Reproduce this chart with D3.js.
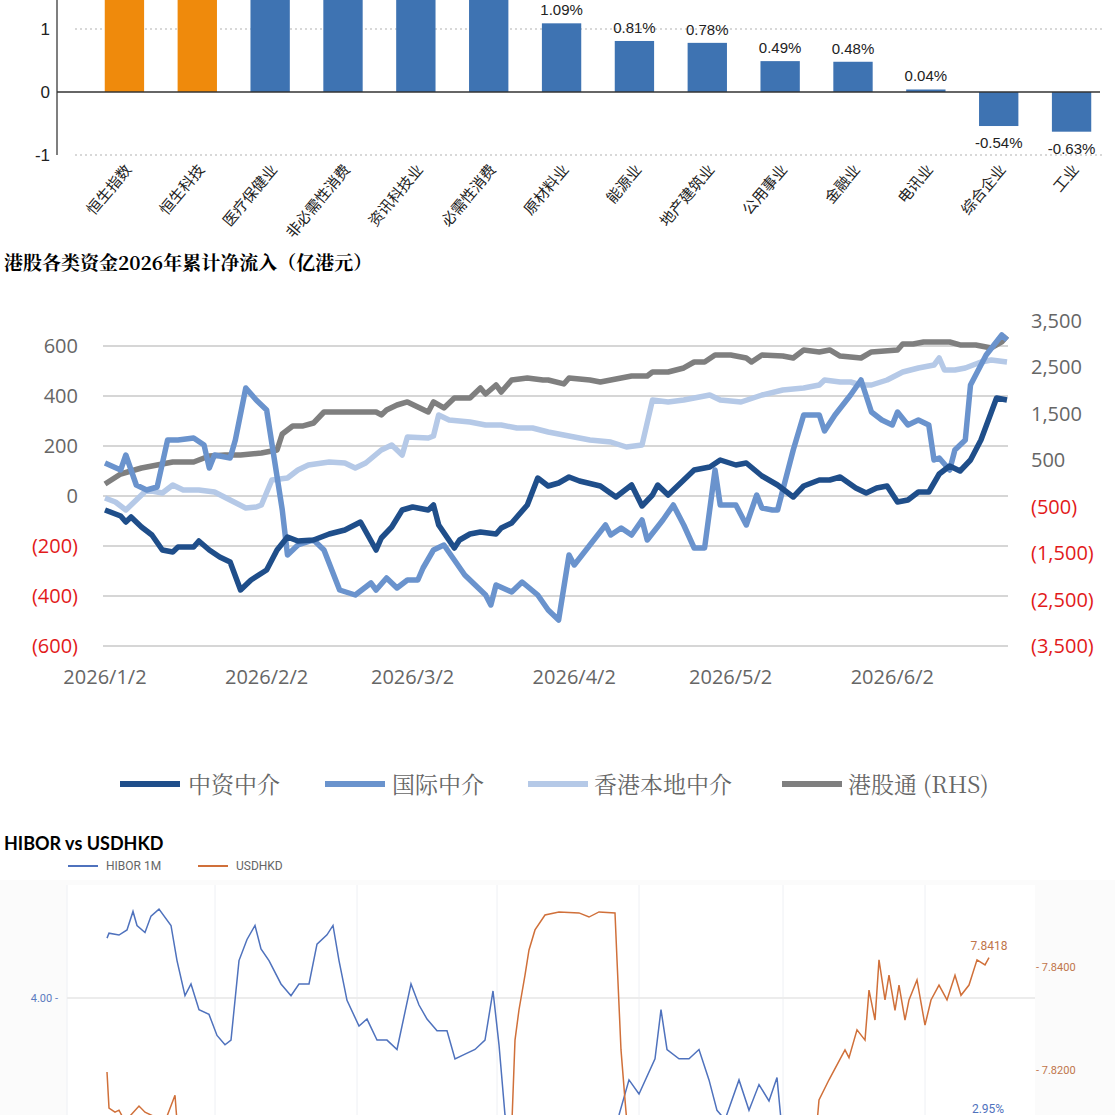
<!DOCTYPE html>
<html><head><meta charset="utf-8">
<script src="https://cdn.jsdelivr.net/npm/d3@7"></script>
<style>body{margin:0;background:#fff}svg{display:block}</style>
</head><body>
<svg id="c" width="1115" height="1115"></svg>
<script>
// ---------- Top bar chart ----------
const sectors=["恒生指数","恒生科技","医疗保健业","非必需性消费","资讯科技业","必需性消费","原材料业","能源业","地产建筑业","公用事业","金融业","电讯业","综合企业","工业"];
const sectorVals=[2.6,2.4,2.1,1.95,1.85,1.7,1.09,0.81,0.78,0.49,0.48,0.04,-0.54,-0.63];
const barYTicks=[1,0,-1];

// ---------- Middle chart ----------
const midTitle="港股各类资金2026年累计净流入（亿港元）";
const seriesNames=["中资中介","国际中介","香港本地中介","港股通 (RHS)"];
const dayZH=[0,3,4,5,7,9,11,13,14,17,18,20,22,24,26,28,31,33,35,37,40,43,46,49,52,53,55,57,59,62,63,64,67,68,70,72,75,76,78,79,81,83,85,87,89,91,95,98,101,103,105,106,108,111,113,116,118,121,123,126,129,132,134,137,139,141,144,146,148,150,152,154,156,158,160,162,164,166,168,171,173];
const valZH=[-56,-80,-104,-84,-124,-156,-216,-224,-204,-204,-180,-216,-244,-264,-376,-336,-296,-216,-164,-180,-176,-152,-136,-104,-216,-168,-124,-56,-44,-56,-36,-116,-208,-176,-152,-144,-152,-128,-108,-84,-36,72,40,52,76,60,40,-4,44,-40,4,44,4,64,104,116,144,124,132,80,44,-4,40,64,64,76,32,12,32,40,-24,-16,16,16,88,120,100,144,224,392,384];
const dayGJ=[0,3,4,6,8,10,12,14,17,19,20,21,24,25,27,29,31,34,35,37,40,42,45,48,51,52,54,56,58,60,61,63,65,67,69,72,73,74,75,78,80,83,85,87,89,90,93,96,97,99,101,103,104,107,109,111,113,115,117,118,121,123,125,126,128,129,132,134,137,138,140,143,145,147,149,151,152,154,156,158,159,160,162,163,165,166,169,172,173];
const valGJ=[132,104,164,44,24,36,224,224,232,204,112,164,152,224,432,384,344,-56,-236,-196,-176,-216,-376,-396,-348,-376,-328,-368,-336,-336,-288,-216,-196,-256,-316,-376,-396,-436,-356,-384,-344,-396,-456,-496,-236,-276,-196,-116,-156,-128,-156,-96,-176,-96,-36,-116,-208,-208,104,-36,-36,-116,4,-48,-56,-56,184,324,324,260,324,404,464,336,304,284,336,284,304,284,144,152,104,184,224,444,564,644,624];
const dayHK=[0,2,4,6,8,11,13,15,18,21,24,27,29,30,32,35,37,39,43,46,48,50,53,55,57,58,62,63,64,66,70,73,76,79,82,85,88,90,93,97,100,103,105,108,111,113,116,118,122,126,130,134,137,138,141,143,145,147,150,153,156,159,160,161,163,165,168,170,173];
const valHK=[-8,-24,-56,-16,24,12,44,24,24,16,-16,-48,-44,-36,64,72,104,124,136,132,112,132,184,204,164,236,232,240,324,304,296,284,284,272,272,256,244,236,224,216,196,204,384,376,384,392,404,384,376,404,424,432,444,464,456,456,444,444,464,496,512,524,552,504,504,512,536,544,536];
const dayGGT=[0,3,7,11,13,17,20,23,26,30,33,34,36,38,40,42,46,52,53,54,56,58,62,63,65,67,70,72,73,75,76,78,81,84,85,88,89,93,95,97,101,104,105,108,111,113,115,117,120,123,124,126,130,132,134,137,139,141,145,147,152,153,155,157,160,162,164,167,170,172,173];
const valGGT=[-11,205,334,420,463,463,592,614,614,657,722,1067,1239,1239,1303,1540,1540,1540,1476,1583,1691,1756,1540,1756,1627,1842,1842,2057,1928,2122,1971,2230,2273,2230,2230,2144,2273,2230,2187,2230,2316,2316,2402,2402,2488,2617,2617,2768,2768,2703,2617,2768,2746,2703,2876,2833,2876,2746,2703,2833,2876,3005,3005,3048,3048,3048,2984,2984,2919,3048,3177];
const leftTicks=[600,400,200,0,-200,-400,-600];
const rightTicks=[3500,2500,1500,500,-500,-1500,-2500,-3500];
const dateTicks=["2026-01-02","2026-02-02","2026-03-02","2026-04-02","2026-05-02","2026-06-02"];

// ---------- Bottom chart ----------
const botTitle="HIBOR vs USDHKD";
const tHibor=[20,21,26,30,33,35,39,42,46,52,55,59,62,66,71,75,79,82,86,90,94,97,101,107,112,116,121,125,130,133,136,140,146,150,155,160,165,172,176,180,185,190,194,199,204,209,213,216,219,230,260,276,281,286,294,297,300,306,311,316,321,325,329,336,341,346,351,355,357,370,420,460];
const vHibor=[4.256,4.277,4.269,4.291,4.37,4.31,4.28,4.35,4.38,4.31,4.16,4.01,4.06,3.95,3.93,3.84,3.80,3.82,4.16,4.25,4.31,4.21,4.16,4.06,4.01,4.06,4.06,4.23,4.27,4.31,4.16,3.99,3.88,3.91,3.82,3.82,3.78,4.06,3.97,3.91,3.86,3.86,3.74,3.76,3.78,3.82,4.03,3.80,3.50,3.0,3.1,3.50,3.65,3.59,3.74,3.95,3.78,3.74,3.74,3.78,3.65,3.52,3.48,3.65,3.52,3.63,3.56,3.66,3.48,3.2,3.1,2.95];
const tUsd=[20,21,24,26,29,36,39,49,54,55,66,222,224,226,229,231,234,239,246,256,261,266,274,275,277,279,281,374,376,381,389,391,395,399,401,404,406,409,411,414,416,419,421,425,429,432,436,440,444,447,451,455,459,461];
const vUsd=[7.8196,7.8126,7.8118,7.8122,7.8100,7.8130,7.8118,7.8100,7.8151,7.8100,7.8050,7.8050,7.8258,7.8317,7.8384,7.8433,7.8472,7.8501,7.8507,7.8505,7.8497,7.8507,7.8505,7.8414,7.8239,7.8142,7.8050,7.8050,7.8142,7.8181,7.8239,7.8224,7.8278,7.8258,7.8355,7.8297,7.8414,7.8336,7.8384,7.8316,7.8365,7.8297,7.8336,7.8375,7.8287,7.8336,7.8365,7.8336,7.8384,7.8345,7.8365,7.8414,7.8404,7.8418];
const usdTicks=[7.84,7.82];
const hiborTicks=[4.0];

const svg=d3.select("#c");
const CJK="'Noto Sans CJK SC','Noto Sans',sans-serif";

// ===== Top =====
const xb=d3.scaleBand().domain(sectors).range([88,1108]).paddingInner(0.46).paddingOuter(0.23);
const yb=d3.scaleLinear().domain([-1,1]).range([155,29]);
const gTop=svg.append("g");
gTop.append("line").attr("x1",57).attr("x2",57).attr("y1",0).attr("y2",yb(-1)).attr("stroke","#555").attr("stroke-width",1.5);
[1,-1].forEach(v=>gTop.append("line").attr("x1",75).attr("x2",1105).attr("y1",yb(v)).attr("y2",yb(v)).attr("stroke","#ccc").attr("stroke-dasharray","2,3").attr("stroke-width",1.5));
gTop.selectAll("rect").data(sectors).join("rect")
 .attr("x",d=>xb(d)).attr("width",xb.bandwidth())
 .attr("y",(d,i)=>yb(Math.max(0,sectorVals[i]))).attr("height",(d,i)=>Math.abs(yb(sectorVals[i])-yb(0)))
 .attr("fill",(d,i)=>i<2?"#ef8a0c":"#3e73b2");
gTop.append("line").attr("x1",57).attr("x2",1100).attr("y1",yb(0)).attr("y2",yb(0)).attr("stroke","#333").attr("stroke-width",1.5);
barYTicks.forEach(v=>gTop.append("text").attr("x",50).attr("y",yb(v)+6).attr("text-anchor","end").attr("font-size",17).attr("font-family","Liberation Sans Narrow,sans-serif").attr("fill","#222").text(v));
sectors.forEach((s,i)=>{const v=sectorVals[i];if(i<6)return;
 gTop.append("text").attr("x",xb(s)+xb.bandwidth()/2).attr("y",v>=0?yb(v)-8:yb(v)+22).attr("text-anchor","middle")
 .attr("font-size",15).attr("font-family","Liberation Sans Narrow,sans-serif").attr("fill","#222").text(v.toFixed(2)+"%");});
sectors.forEach(s=>{const cx=xb(s)+xb.bandwidth()/2+8;
 gTop.append("text").attr("transform",`translate(${cx},170) rotate(-50)`).attr("text-anchor","end").attr("font-size",15).attr("font-family",CJK).attr("fill","#222").text(s);});

// ===== Middle =====
svg.append("text").attr("x",4).attr("y",270).attr("font-size",19).attr("font-weight","bold").attr("font-family","'Noto Serif CJK SC','Noto Sans CJK SC',serif").attr("fill","#000").text(midTitle);
const t0=new Date(2026,0,2);
const xm=d3.scaleTime().domain([t0,d3.timeDay.offset(t0,173)]).range([105,1007]);
const yl=d3.scaleLinear().domain([-600,600]).range([646,346]);
const yr=d3.scaleLinear().domain([-3500,3500]).range([646,321]);
const gM=svg.append("g");
leftTicks.forEach(v=>{gM.append("line").attr("x1",103).attr("x2",1008).attr("y1",yl(v)).attr("y2",yl(v)).attr("stroke","#c8c8c8").attr("stroke-width",1.3);
 gM.append("text").attr("x",78).attr("y",yl(v)+7).attr("text-anchor","end").attr("font-size",20).attr("font-family","Open Sans,sans-serif").attr("fill",v<0?"#e21a1a":"#666").text(v<0?`(${-v})`:v);});
rightTicks.forEach(v=>gM.append("text").attr("x",1031).attr("y",yr(v)+7).attr("font-size",20).attr("font-family","Open Sans,sans-serif").attr("fill",v<0?"#e21a1a":"#666").text(v<0?`(${d3.format(",")(-v)})`:d3.format(",")(v)));
dateTicks.forEach(d=>{const dt=new Date(d+"T00:00:00");gM.append("text").attr("x",xm(dt)).attr("y",684).attr("text-anchor","middle").attr("font-size",20).attr("font-family","Open Sans,sans-serif").attr("fill","#666").text(`${dt.getFullYear()}/${dt.getMonth()+1}/${dt.getDate()}`);});
const colors=["#1f4e8a","#6a93cd","#b5c9e7","#7f7f7f"];
const mk=(days,vals,ys)=>d3.line().x((d,i)=>xm(d3.timeDay.offset(t0,days[i]))).y((d,i)=>ys(vals[i]))(days);
const series=[[dayHK,valHK,yl,2],[dayGGT,valGGT,yr,3],[dayGJ,valGJ,yl,1],[dayZH,valZH,yl,0]];
series.forEach(([d,v,s,c])=>gM.append("path").attr("d",mk(d,v,s)).attr("fill","none").attr("stroke",colors[c]).attr("stroke-width",5.5).attr("stroke-linejoin","round"));
const legX=[[120,188],[325,392],[528,594],[782,848]];
seriesNames.forEach((n,i)=>{gM.append("line").attr("x1",legX[i][0]).attr("x2",legX[i][0]+60).attr("y1",784).attr("y2",784).attr("stroke",colors[i]).attr("stroke-width",6);
 gM.append("text").attr("x",legX[i][1]).attr("y",793).attr("font-size",23).attr("font-family","'Noto Serif CJK SC','Noto Sans CJK SC',serif").attr("fill","#666").text(n);});

// ===== Bottom =====
svg.append("text").attr("x",4).attr("y",850).attr("font-size",18).attr("font-weight","bold").attr("font-family","Lato,sans-serif").attr("fill","#000").text(botTitle);
const gB=svg.append("g");
gB.append("rect").attr("x",0).attr("y",880).attr("width",1115).attr("height",235).attr("fill","#fbfbfb");
gB.append("rect").attr("x",67).attr("y",885).attr("width",968).attr("height",230).attr("fill","#fff");
const xt=d3.scaleLinear().domain([0,484]).range([67,1035]);
const yh=d3.scaleLinear().domain([3.5,4.5]).range([1115,881]);
const yu=d3.scaleLinear().domain([7.82,7.84]).range([1070,967]);
[0,74,145,215,286,358,429].forEach(t=>gB.append("line").attr("x1",xt(t)).attr("x2",xt(t)).attr("y1",885).attr("y2",1115).attr("stroke","#eef0f4"));
hiborTicks.forEach(v=>{gB.append("line").attr("x1",67).attr("x2",1035).attr("y1",yh(v)).attr("y2",yh(v)).attr("stroke","#ececec").attr("stroke-width",2);
 gB.append("text").attr("x",58).attr("y",yh(v)+4).attr("text-anchor","end").attr("font-size",11).attr("font-family","Roboto,sans-serif").attr("fill","#5b7bbf").text(v.toFixed(2)+" -");});
usdTicks.forEach(v=>gB.append("text").attr("x",1036).attr("y",yu(v)+4).attr("font-size",11).attr("font-family","Roboto,sans-serif").attr("fill","#c0754a").text("- "+v.toFixed(4)));
gB.append("clipPath").attr("id","cp").append("rect").attr("x",67).attr("y",885).attr("width",968).attr("height",230);
const lh=d3.line().x((d,i)=>xt(tHibor[i])).y((d,i)=>yh(vHibor[i]));
const lu=d3.line().x((d,i)=>xt(tUsd[i])).y((d,i)=>yu(vUsd[i]));
gB.append("path").attr("clip-path","url(#cp)").attr("d",lh(tHibor)).attr("fill","none").attr("stroke","#4f72bd").attr("stroke-width",1.5);
gB.append("path").attr("clip-path","url(#cp)").attr("d",lu(tUsd)).attr("fill","none").attr("stroke","#d0703a").attr("stroke-width",1.5);
gB.append("text").attr("x",xt(tUsd[tUsd.length-1])).attr("y",950).attr("text-anchor","middle").attr("font-size",12).attr("font-family","Roboto,sans-serif").attr("fill","#c0754a").text(vUsd[vUsd.length-1].toFixed(4));
gB.append("text").attr("x",988).attr("y",1113).attr("text-anchor","middle").attr("font-size",12).attr("font-family","Roboto,sans-serif").attr("fill","#4f72bd").text(vHibor[vHibor.length-1].toFixed(2)+"%");
[["HIBOR 1M","#4f72bd",68],["USDHKD","#d0703a",198]].forEach(([n,c,x])=>{gB.append("line").attr("x1",x).attr("x2",x+30).attr("y1",866).attr("y2",866).attr("stroke",c).attr("stroke-width",2);
 gB.append("text").attr("x",x+38).attr("y",870).attr("font-size",12).attr("font-family","Roboto,sans-serif").attr("fill","#666").text(n);});
</script>
</body></html>
